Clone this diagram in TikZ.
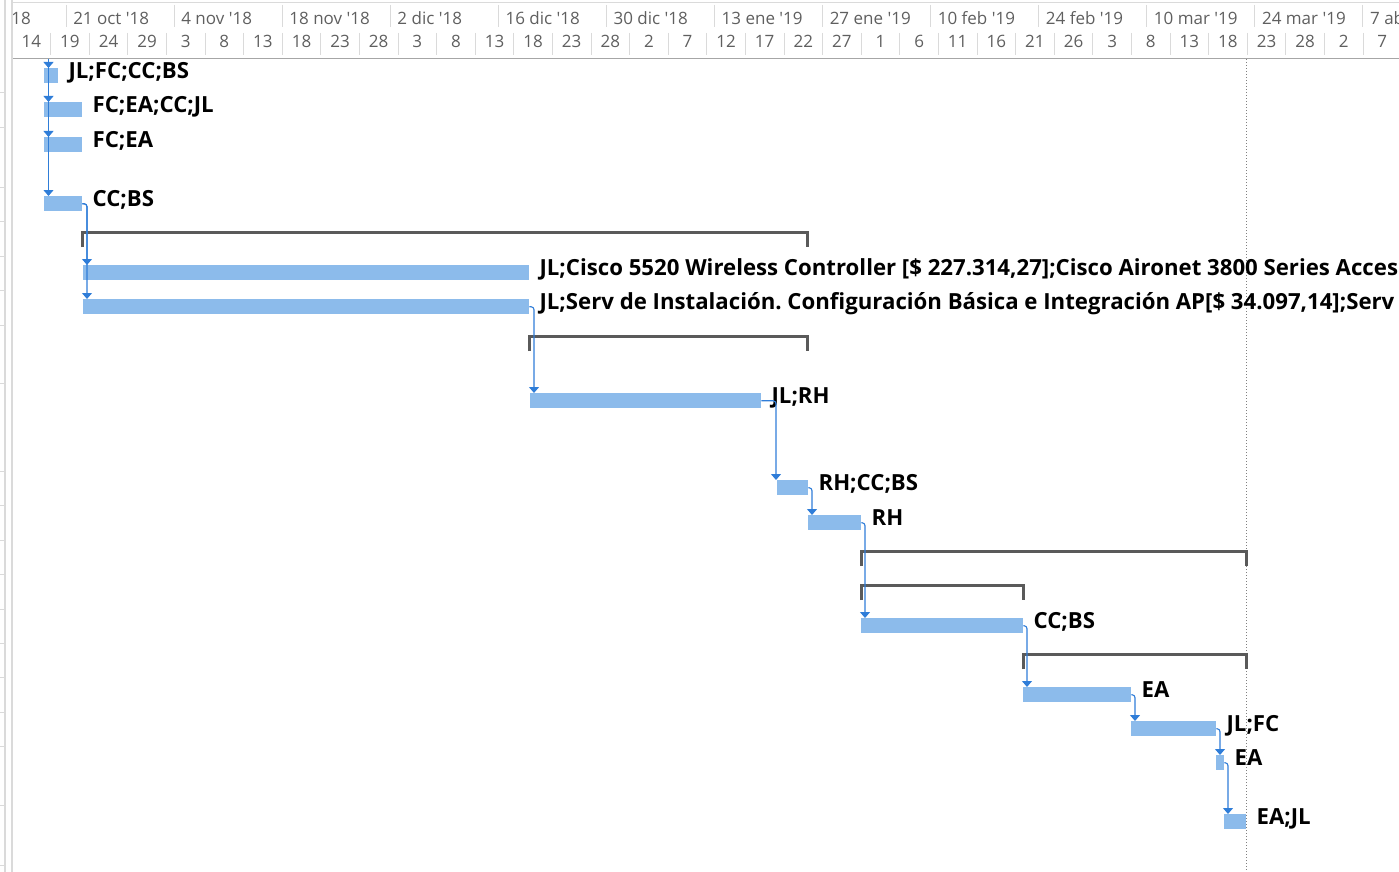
\documentclass[tikz,border=0pt]{standalone}
\usepackage{fontspec}
\setmainfont{Open Sans}
\usetikzlibrary{arrows.meta,positioning}
\definecolor{barblue}{HTML}{8CBBEB}
\definecolor{linkblue}{HTML}{2F7DD8}
\definecolor{sumgray}{HTML}{5A5A5A}
\definecolor{gridgray}{HTML}{DADADA}
\definecolor{headtext}{HTML}{5F5F5F}
\frenchspacing
\tikzset{
  task/.style={
    fill=barblue,
    inner sep=0pt,
    minimum height=15pt,
    anchor=north west
  },
  tag/.style={
    inner sep=0pt,
    anchor=base west,
    font=\fontsize{22.2}{26}\selectfont\bfseries
  },
  head/.style={
    inner sep=0pt,
    text=headtext,
    font=\fontsize{17}{20}\selectfont
  },
  summary/.style={draw=sumgray, line width=3pt},
  tick/.style={draw=gridgray, line width=1pt},
  link/.style={
    draw=linkblue,
    line width=1.1pt,
    rounded corners=3pt,
    -{Triangle[width=10pt,length=6pt]}
  },
  today/.style={draw=gray, line width=1pt, dash pattern=on 1pt off 2pt}
}

\begin{document}
\begin{tikzpicture}[x=1pt,y=-1pt]
\useasboundingbox (0,0) rectangle (1399,872);
\clip (0,0) rectangle (1399,872);

% --- timescale: two tiers, 7.72pt per day ---
\draw[tick] (12,3) -- (1399,3);
\draw[draw=gray!70, line width=1.5pt] (12,58.5) -- (1399,58.5);
\begin{scope}
\clip (12,0) rectangle (1399,58);
% first week starts off the left edge, only its year shows
\node[head, anchor=base east] (mon0) at (31,25) {7 oct \textquotesingle18};
\foreach \m [count=\i from 1] in {21 oct \textquotesingle18,
    4 nov \textquotesingle18, 18 nov \textquotesingle18, 2 dic \textquotesingle18,
    16 dic \textquotesingle18, 30 dic \textquotesingle18, 13 ene \textquotesingle19,
    27 ene \textquotesingle19, 10 feb \textquotesingle19, 24 feb \textquotesingle19,
    10 mar \textquotesingle19, 24 mar \textquotesingle19, 7 abr \textquotesingle19}
  \node[head, anchor=base west] (mon\i) at (-35+108.07*\i,25) {\m};
\foreach \i in {1,...,13}
  \draw[tick] (-42+108.07*\i,5) -- ++(0,22);
\foreach \d [count=\i from 0] in {14,19,24,29,3,8,13,18,23,28,3,8,13,18,23,28,
    2,7,12,17,22,27,1,6,11,16,21,26,3,8,13,18,23,28,2,7}
  \node[head, anchor=base] (day\i) at (31.3+38.6*\i,48) {\d};
\foreach \i in {1,...,36}
  \draw[tick] (12+38.6*\i,33) -- ++(0,22);
\end{scope}

% --- left edge with row marks ---
\draw[draw=gridgray, line width=2pt] (5,0) -- (5,872) (11.5,0) -- (11.5,872);
\foreach \y in {93,128,187,221,256,290,325,383,471,505,540,574,609,643,677,712,746,805,865}
  \draw[tick] (0,\y) -- (4,\y);

% status date
\draw[today] (1246,59) -- (1246,872);

% --- summary brackets ---
\draw[summary] (82,247) -- (82,232) -- (807,232) -- (807,247);
\draw[summary] (529,351) -- (529,336) -- (807,336) -- (807,351);
\draw[summary] (861,566) -- (861,551) -- (1246,551) -- (1246,566);
\draw[summary] (861,600) -- (861,585) -- (1023,585) -- (1023,600);
\draw[summary] (1023,669) -- (1023,654) -- (1246,654) -- (1246,669);

% --- task bars ---
\node[task, minimum width=14pt] (t1) at (44,68) {};
\node[task, minimum width=38pt] (t2) at (44,102) {};
\node[task, minimum width=38pt] (t3) at (44,137) {};
\node[task, minimum width=38pt] (t4) at (44,196) {};
\node[task, minimum width=446pt] (t5) at (83,265) {};
\node[task, minimum width=446pt] (t6) at (83,299) {};
\node[task, minimum width=231pt] (t7) at (530,393) {};
\node[task, minimum width=31pt] (t8) at (777,480) {};
\node[task, minimum width=53pt] (t9) at (808,515) {};
\node[task, minimum width=162pt] (t10) at (861,618) {};
\node[task, minimum width=108pt] (t11) at (1023,687) {};
\node[task, minimum width=85pt] (t12) at (1131,721) {};
\node[task, minimum width=8pt] (t13) at (1216,755) {};
\node[task, minimum width=22pt] (t14) at (1224,814) {};

% resource names next to each bar
\node[tag] (l1) at ([xshift=10pt,yshift=-3pt]t1.east) {JL;FC;CC;BS};
\node[tag] (l2) at ([xshift=10pt,yshift=-3pt]t2.east) {FC;EA;CC;JL};
\node[tag] (l3) at ([xshift=10pt,yshift=-3pt]t3.east) {FC;EA};
\node[tag] (l4) at ([xshift=10pt,yshift=-3pt]t4.east) {CC;BS};
\node[tag] (l5) at ([xshift=10pt,yshift=-3pt]t5.east) {JL;Cisco 5520 Wireless Controller [\$ 227.314,27];Cisco Aironet 3800 Series Access};
\node[tag] (l6) at ([xshift=10pt,yshift=-3pt]t6.east) {JL;Serv de Instalación. Configuración Básica e Integración AP[\$ 34.097,14];Serv de};
\node[tag] (l7) at ([xshift=10pt,yshift=-3pt]t7.east) {JL;RH};
\node[tag] (l8) at ([xshift=10pt,yshift=-3pt]t8.east) {RH;CC;BS};
\node[tag] (l9) at ([xshift=10pt,yshift=-3pt]t9.east) {RH};
\node[tag] (l10) at ([xshift=10pt,yshift=-3pt]t10.east) {CC;BS};
\node[tag] (l11) at ([xshift=10pt,yshift=-3pt]t11.east) {EA};
\node[tag] (l12) at ([xshift=10pt,yshift=-3pt]t12.east) {JL;FC};
\node[tag] (l13) at ([xshift=10pt,yshift=-3pt]t13.east) {EA};
\node[tag] (l14) at ([xshift=10pt,yshift=-3pt]t14.east) {EA;JL};

% --- links ---
\coordinate (feed) at (48.5,59);
\draw[link] (feed) -- ([xshift=4.5pt]t1.north west);
\draw[link] (feed) -- ([xshift=4.5pt]t2.north west);
\draw[link] (feed) -- ([xshift=4.5pt]t3.north west);
\draw[link] (feed) -- ([xshift=4.5pt]t4.north west);
\draw[link] (t4.east) -| ([xshift=4pt]t5.north west);
\draw[link] (t4.east) -| ([xshift=4pt]t6.north west);
\draw[link] (t6.east) -| ([xshift=4pt]t7.north west);
\draw[link] (t7.east) -| ([xshift=-1pt]t8.north west);
\draw[link] (t8.east) -| ([xshift=4pt]t9.north west);
\draw[link] (t9.east) -| ([xshift=4pt]t10.north west);
\draw[link] (t10.east) -| ([xshift=4pt]t11.north west);
\draw[link] (t11.east) -| ([xshift=4pt]t12.north west);
\draw[link] (t12.east) -| ([xshift=4pt]t13.north west);
\draw[link] (t13.east) -| ([xshift=4pt]t14.north west);

\end{tikzpicture}
\end{document}
